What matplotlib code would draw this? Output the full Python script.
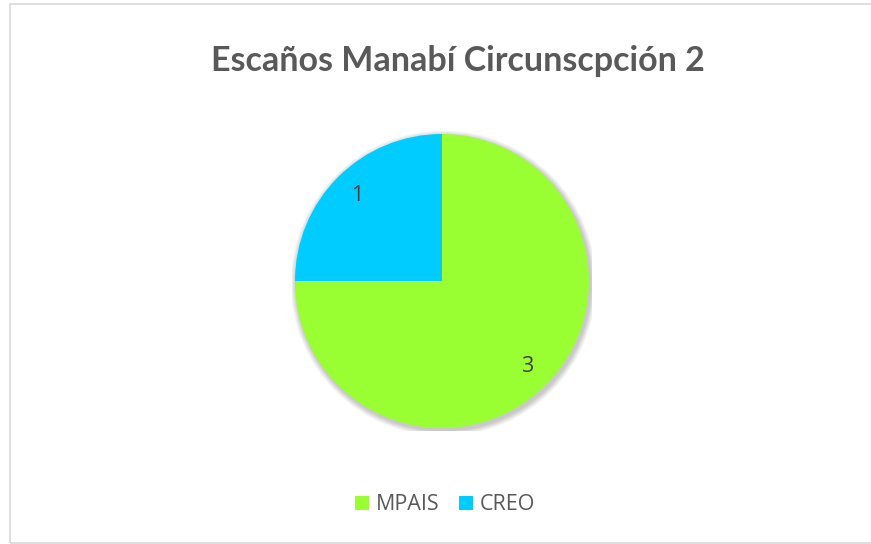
import matplotlib
matplotlib.use("Agg")
import matplotlib.pyplot as plt
from matplotlib.patches import Circle, Rectangle, Patch

title = "Escaños Manabí Circunscpción 2"
categories = ["MPAIS", "CREO"]
values = [3, 1]
colors = ["#99FF33", "#00CCFF"]

W, H = 871, 544
fig = plt.figure(figsize=(W / 100, H / 100), dpi=100)
fig.patch.set_facecolor("white")

# chart border
fig.patches.append(Rectangle((9.5 / W, 1 - 542.5 / H), (W + 5 - 9.5) / W, (542.5 - 3.5) / H,
                             transform=fig.transFigure, fill=False,
                             edgecolor="#D9D9D9", linewidth=1.2))

cx, cy, r = 442, 281, 147
half = 150
ax = fig.add_axes([(cx - half) / W, (H - cy - half) / H, 2 * half / W, 2 * half / H])
lim = half / r

# soft shadow
for i in range(8):
    ax.add_patch(Circle((0.010, -0.016), 1.0 + 0.005 * (8 - i), facecolor="black",
                        edgecolor="none", alpha=0.028, zorder=0))

wedges, texts = ax.pie(values, colors=colors, startangle=90, counterclock=False,
                       labels=[str(v) for v in values], labeldistance=0.82,
                       radius=1.0, frame=True,
                       wedgeprops=dict(linewidth=0, edgecolor="none"),
                       textprops=dict(fontsize=15.5, color="#404040", family="Open Sans"))
ax.set_xlim(-lim, lim)
ax.set_ylim(-lim, lim)
ax.set_aspect("equal")
ax.axis("off")
for t in texts:
    t.set_ha("center")
    t.set_va("center")

fig.text(458 / W, 1 - 61 / H, title, ha="center", va="center",
         fontsize=24.5, fontweight="bold", color="#595959", family="Lato")

handles = [Patch(facecolor=c, edgecolor="none") for c in colors]
fig.legend(handles, categories, loc="center", bbox_to_anchor=(445 / W, 1 - 505 / H),
           ncol=2, frameon=False, handlelength=0.65, handleheight=0.65,
           handletextpad=0.3, columnspacing=0.9,
           prop=dict(family="Open Sans", size=15.5))
for txt in fig.legends[0].get_texts():
    txt.set_color("#595959")

fig.savefig("out.png", dpi=100, facecolor="white")
